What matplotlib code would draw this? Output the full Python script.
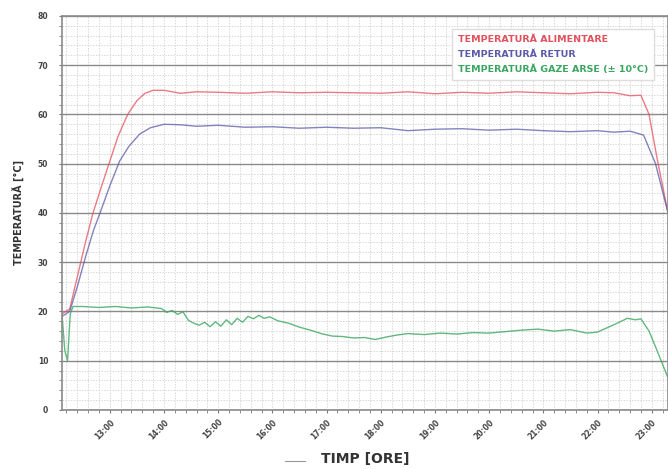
import matplotlib.pyplot as plt
from matplotlib.lines import Line2D
from matplotlib.ticker import MultipleLocator, FuncFormatter

# time in hours (decimal)
t_alim = [12.12, 12.26, 12.4, 12.55, 12.69, 12.85, 13.0, 13.15, 13.33, 13.5, 13.65, 13.8,
          14.0, 14.3, 14.6, 15.0, 15.5, 16.0, 16.5, 17.0, 17.5, 18.0, 18.5, 19.0, 19.5,
          20.0, 20.5, 21.0, 21.5, 22.0, 22.3, 22.6, 22.8, 22.95, 23.1, 23.3]
v_alim = [19.5, 20.5, 27.0, 34.0, 40.0, 45.5, 50.5, 55.5, 60.0, 62.8, 64.3, 64.9,
          64.9, 64.3, 64.6, 64.5, 64.3, 64.6, 64.4, 64.5, 64.4, 64.3, 64.6, 64.2, 64.5,
          64.3, 64.6, 64.4, 64.2, 64.5, 64.4, 63.8, 63.9, 60.0, 51.0, 40.0]

t_retur = [12.12, 12.26, 12.4, 12.55, 12.7, 12.82, 13.0, 13.18, 13.35, 13.55, 13.75, 14.0,
           14.3, 14.6, 15.0, 15.5, 16.0, 16.5, 17.0, 17.5, 18.0, 18.5, 19.0, 19.5, 20.0,
           20.5, 21.0, 21.5, 22.0, 22.3, 22.6, 22.85, 23.07, 23.3]
v_retur = [19.0, 20.0, 25.0, 31.0, 36.5, 40.0, 45.5, 50.5, 53.5, 56.0, 57.3, 58.0,
           57.9, 57.6, 57.8, 57.4, 57.5, 57.2, 57.4, 57.2, 57.3, 56.7, 57.0, 57.1, 56.8,
           57.0, 56.7, 56.5, 56.7, 56.4, 56.6, 55.8, 50.0, 40.0]

t_gaze = [12.12, 12.17, 12.22, 12.27, 12.32, 12.5, 12.8, 13.1, 13.4, 13.7, 13.95, 14.05,
          14.15, 14.25, 14.35, 14.45, 14.55, 14.65, 14.75, 14.85, 14.95, 15.05, 15.15,
          15.25, 15.35, 15.45, 15.55, 15.65, 15.75, 15.85, 15.95, 16.1, 16.3, 16.5, 16.7,
          16.9, 17.1, 17.3, 17.5, 17.7, 17.9, 18.1, 18.3, 18.5, 18.8, 19.1, 19.4, 19.7,
          20.0, 20.3, 20.6, 20.9, 21.2, 21.5, 21.8, 22.0, 22.2, 22.4, 22.55, 22.7, 22.8,
          22.95, 23.1, 23.3]
v_gaze = [19.0, 12.0, 10.0, 19.5, 21.0, 21.0, 20.8, 21.0, 20.7, 20.9, 20.6, 19.8,
          20.2, 19.4, 19.9, 18.2, 17.6, 17.2, 17.8, 16.9, 17.9, 17.0, 18.3, 17.3,
          18.6, 17.8, 19.0, 18.5, 19.2, 18.6, 18.9, 18.1, 17.6, 16.8, 16.2, 15.5,
          15.0, 14.9, 14.6, 14.7, 14.3, 14.8, 15.2, 15.5, 15.3, 15.6, 15.4, 15.7,
          15.6, 15.9, 16.2, 16.4, 16.0, 16.3, 15.6, 15.8, 16.8, 17.8, 18.6, 18.3, 18.5,
          16.0, 12.0, 6.5]

legend_labels = ["TEMPERATURĂ ALIMENTARE", "TEMPERATURĂ RETUR", "TEMPERATURĂ GAZE ARSE (± 10°C)"]
colors = ["#e2505c", "#5a5aa8", "#3aa662"]

fig = plt.figure(figsize=(6.68, 4.69), dpi=100)
ax = fig.add_axes([0.093, 0.126, 0.907, 0.840])

ax.plot(t_alim, v_alim, color=colors[0], lw=1.0, alpha=0.75)
ax.plot(t_retur, v_retur, color=colors[1], lw=1.0, alpha=0.75)
ax.plot(t_gaze, v_gaze, color=colors[2], lw=1.0, alpha=0.8)

ax.set_xlim(12.12, 23.3)
ax.set_ylim(0, 80)
ax.yaxis.set_major_locator(MultipleLocator(10))
ax.yaxis.set_minor_locator(MultipleLocator(2))
ax.xaxis.set_major_locator(MultipleLocator(1))
ax.xaxis.set_minor_locator(MultipleLocator(0.2))
ax.xaxis.set_major_formatter(FuncFormatter(lambda v, p: f"{int(round(v)):02d}:00"))

ax.grid(which="minor", color="#c8c8c8", lw=0.5, ls=(0, (2, 2)))
ax.grid(which="major", axis="x", color="#c8c8c8", lw=0.5, ls=(0, (2, 2)))
ax.grid(which="major", axis="y", color="#8a8a8a", lw=1.0)
ax.set_axisbelow(True)

for s in ax.spines.values():
    s.set_color("#8a8a8a")
    s.set_linewidth(1.2)

ax.tick_params(axis="both", which="both", length=2, color="#777777")
ax.tick_params(axis="y", labelsize=5.5, labelcolor="#444444", pad=8)
ax.tick_params(axis="x", labelsize=5.5, labelcolor="#444444", labelrotation=45)
for lab in ax.get_xticklabels() + ax.get_yticklabels():
    lab.set_fontweight("bold")
for lab in ax.get_xticklabels():
    lab.set_ha("right")
    lab.set_rotation_mode("anchor")

ax.set_ylabel("TEMPERATURĂ [°C]", fontsize=7, fontweight="bold", color="#333333", labelpad=10)
ax.set_xlabel("TIMP [ORE]", fontsize=10, fontweight="bold", color="#333333", labelpad=8)

# small dash in front of the x label, as in the original
fig.add_artist(Line2D([0.427, 0.457], [0.016, 0.016], color="#999999", lw=0.8))

handles = [plt.Line2D([], [], lw=0) for _ in legend_labels]
leg = ax.legend(handles, legend_labels, loc="upper right", bbox_to_anchor=(0.985, 0.978),
                handlelength=0, handletextpad=0, fontsize=6.8, frameon=True,
                fancybox=False, edgecolor="#dddddd", framealpha=1, labelspacing=0.6,
                borderpad=0.6)
for txt, c in zip(leg.get_texts(), colors):
    txt.set_color(c)
    txt.set_fontweight("bold")

fig.savefig("out.png", dpi=100)
